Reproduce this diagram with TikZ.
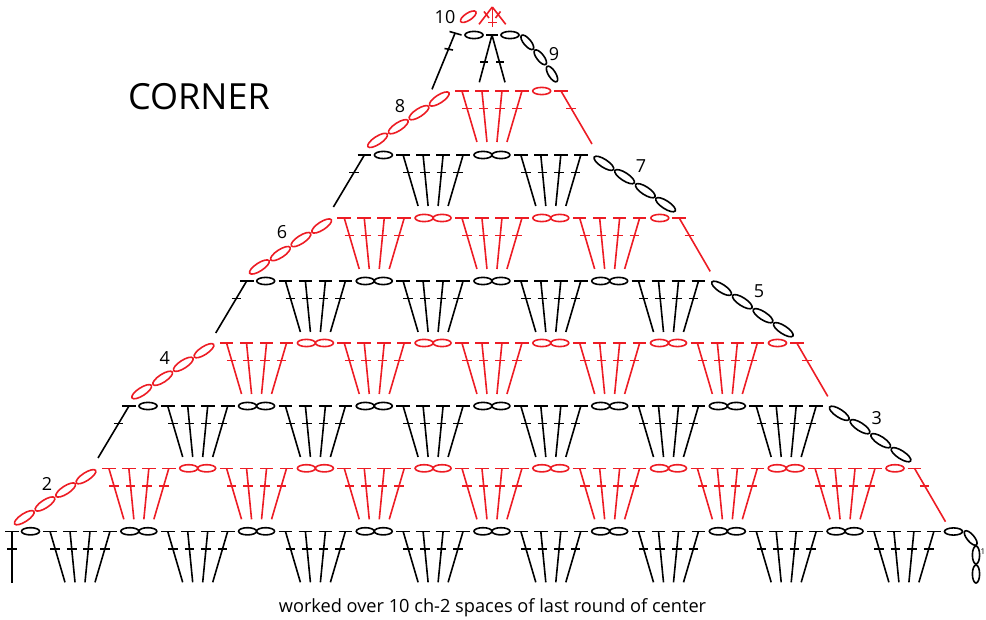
\documentclass[tikz,border=0pt]{standalone}
\usepackage{fontspec}
\setmainfont{Open Sans}
\definecolor{cred}{HTML}{ED1C24}
\tikzset{
  blackrow/.style={color=black},
  redrow/.style={color=cred},
  stitch/.style={line width=1.6pt},
  lab/.style={font=\fontsize{18}{20}\selectfont, inner sep=0pt, text=black}
}
% double crochet: top x,y then bottom x,y
\newcommand{\dcst}[4]{%
  \pgfmathsetmacro{\crx}{(#1)+((#3)-(#1))*17.4/((#4)-(#2))}%
  \draw[stitch] (#1-6.8,#2) -- (#1+6.8,#2);
  \draw[stitch] (#1,#2) -- (#3,#4);
  \draw[stitch] (\crx-4.8,#2+17.4) -- (\crx+4.8,#2+17.4);
}
% chain stitch
\newcommand{\chst}[3]{\draw[stitch,rotate around={#3:(#1,#2)}] (#1,#2) ellipse [x radius=9, y radius=3.6];}
\newcommand{\chlong}[3]{\draw[stitch,rotate around={#3:(#1,#2)}] (#1,#2) ellipse [x radius=11.5, y radius=4];}
% cluster of 4 at column k
\newcommand{\clust}[2]{%
  \pgfmathsetmacro{\cx}{80+58.85*#1}%
  \dcst{\cx-30}{#2}{\cx-15}{#2+51}%
  \dcst{\cx-10}{#2}{\cx-5}{#2+51}%
  \dcst{\cx+10}{#2}{\cx+5}{#2+51}%
  \dcst{\cx+30}{#2}{\cx+15}{#2+51}%
}
\newcommand{\chpair}[2]{%
  \pgfmathsetmacro{\px}{80+58.85*#1}%
  \chst{\px-9}{#2}{0}%
  \chst{\px+9}{#2}{0}%
}
% row: clusters at columns a,a+2,...,b; pairs between them
\newcommand{\shell}[3]{%
  \pgfmathtruncatemacro{\kb}{#1+2}%
  \foreach \k in {#1,\kb,...,#2}{%
    \clust{\k}{#3}%
    \ifnum\k<#2\relax
      \pgfmathtruncatemacro{\kp}{\k+1}%
      \chpair{\kp}{#3}%
    \fi
  }%
}
\begin{document}
\begin{tikzpicture}[x=1pt,y=-1pt]
\useasboundingbox (0,0) rectangle (986,620);
\begin{scope}[blackrow]
  % row 1
  \shell{0}{14}{531.3}
  \dcst{12}{531.3}{12}{583}
  \chst{30.5}{531.3}{0}
  \chst{953.5}{531.5}{0}
  \chst{970.7}{538}{-50}
  \chst{976}{555}{90}
  \chst{976}{574}{90}
  % row 3
  \shell{2}{12}{406}
  \dcst{129}{406}{98}{458}
  \chst{148}{406}{0}
  \foreach \x/\y in {839.3/413.3,860/426.7,880.7/440.7,901/454.7}{\chlong{\x}{\y}{-33}}
  % row 5
  \shell{4}{10}{281}
  \dcst{246.7}{281}{215.7}{333}
  \chst{265.7}{281}{0}
  \foreach \x/\y in {721.6/288.3,742.3/301.7,763/315.7,783.3/329.7}{\chlong{\x}{\y}{-33}}
  % row 7
  \shell{6}{8}{155}
  \dcst{364.4}{155}{333.4}{207}
  \chst{383.4}{155}{0}
  \foreach \x/\y in {603.9/163.3,624.6/176.7,645.3/190.7,665.6/204.7}{\chlong{\x}{\y}{-33}}
  % row 9
  \draw[stitch] (449.5,31.5) -- (461.5,35);
  \draw[stitch] (455,33.3) -- (432,89.3);
  \draw[stitch] (444.5,48.5) -- (453,50);
  \chst{474}{35}{0}
  \draw[stitch] (486,35) -- (498,35);
  \draw[stitch] (492,35) -- (479.3,82.3);
  \draw[stitch] (492,35) -- (505,82.3);
  \draw[stitch] (480.3,62) -- (488.3,62);
  \draw[stitch] (496,62) -- (504,62);
  \chst{510}{35}{0}
  \chst{527.3}{42.3}{-50}
  \chst{540.3}{57.3}{-52}
  \chst{552}{74}{-58}
\end{scope}
\begin{scope}[redrow]
  % row 2
  \shell{1}{13}{468.3}
  \chst{895}{468.3}{0}
  \dcst{914.5}{468.3}{945.5}{521.7}
  \foreach \x/\y in {24.3/517.7,45/504,65.7/490,86/476.7}{\chlong{\x}{\y}{33}}
  % row 4
  \shell{3}{11}{343}
  \chst{777.5}{343}{0}
  \dcst{796.8}{343}{827.8}{396.4}
  \foreach \x/\y in {141.7/391.7,162.7/378.3,183.3/364.3,204/350.7}{\chlong{\x}{\y}{33}}
  % row 6
  \shell{5}{9}{218}
  \chst{659.8}{218}{0}
  \dcst{679.2}{218}{710.2}{271.4}
  \foreach \x/\y in {259.4/267,280.4/253.6,301/239.6,321.7/226}{\chlong{\x}{\y}{33}}
  % row 8
  \clust{7}{91}
  \chst{541.7}{91}{0}
  \dcst{561}{91}{592}{144}
  \foreach \x/\y in {377.6/140.4,398.3/126.7,419/112.7,439.3/99}{\chlong{\x}{\y}{33}}
  % row 10
  \chst{468.3}{16.7}{33}
  \draw[stitch] (492.3,7) -- (492.3,26.7);
  \draw[stitch] (488.3,22.7) -- (496.7,22.7);
  \draw[stitch] (492.3,7) -- (479,24.3);
  \draw[stitch] (492.3,7) -- (505.7,24.3);
  \draw[stitch] (484,11.5) -- (489,18);
  \draw[stitch] (500.5,11.5) -- (495.5,18);
\end{scope}
% labels
\node[lab] (n10) at (445,17) {10};
\node[lab] (n9) at (554,54) {9};
\node[lab] (n8) at (400,106) {8};
\node[lab] (n7) at (641,166) {7};
\node[lab] (n6) at (282,232) {6};
\node[lab] (n5) at (759,291) {5};
\node[lab] (n4) at (164.7,358) {4};
\node[lab] (n3) at (876.7,418) {3};
\node[lab] (n2) at (47,484) {2};
\node[inner sep=0pt,font=\fontsize{8}{9}\selectfont] (n1) at (983,552) {1};
\node[inner sep=0pt,font=\fontsize{36}{40}\selectfont] (title) at (199,97) {CORNER};
\node[inner sep=0pt,font=\fontsize{18.2}{20}\selectfont] (cap) at (492.5,607.5) {worked over 10 ch-2 spaces of last round of center};
\end{tikzpicture}
\end{document}
